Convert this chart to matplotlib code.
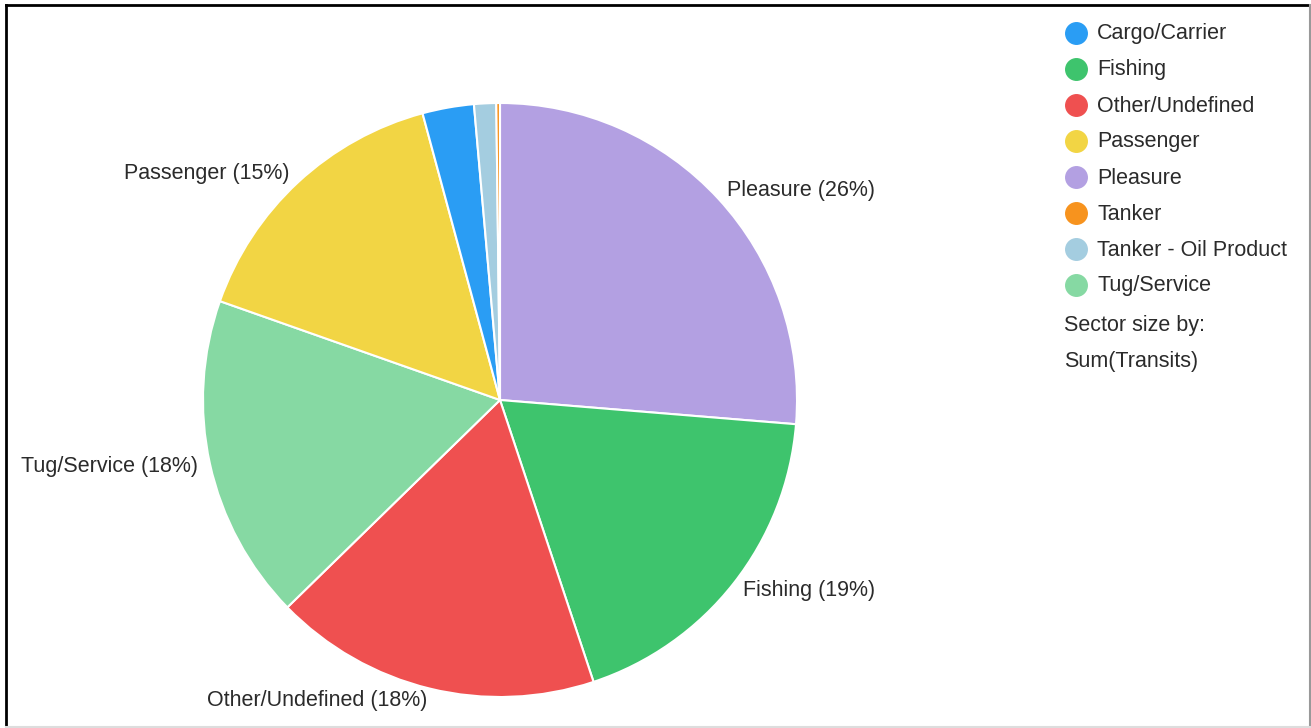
import matplotlib.pyplot as plt
from matplotlib.lines import Line2D

# slice order as drawn (clockwise from 12 o'clock)
categories = ["Pleasure", "Fishing", "Other/Undefined", "Tug/Service", "Passenger",
              "Cargo/Carrier", "Tanker - Oil Product", "Tanker"]
shares = [26.3, 18.6, 17.8, 17.7, 15.4, 2.8, 1.2, 0.2]

colors = {
    "Cargo/Carrier": "#2a9df4",
    "Fishing": "#3ec46d",
    "Other/Undefined": "#ef5050",
    "Passenger": "#f2d544",
    "Pleasure": "#b3a0e2",
    "Tanker": "#f7931e",
    "Tanker - Oil Product": "#a4cde0",
    "Tug/Service": "#86d9a3",
}

legend_order = ["Cargo/Carrier", "Fishing", "Other/Undefined", "Passenger", "Pleasure",
                "Tanker", "Tanker - Oil Product", "Tug/Service"]

W, H = 1311, 728
plt.rcParams['font.family'] = ['Liberation Sans', 'DejaVu Sans']
txt_color = '#2b2b2b'

fig = plt.figure(figsize=(W / 100, H / 100), dpi=100)
fig.patch.set_facecolor('white')

# pie axes placed by pixel: center (500, 400), radius 297
cx, cy, r = 500, 400, 297
ax = fig.add_axes([(cx - r) / W, (H - cy - r) / H, 2 * r / W, 2 * r / H])

total = sum(shares)
labels = [f"{c} ({round(100 * v / total)}%)" if v / total >= 0.05 else "" for c, v in zip(categories, shares)]

wedges, texts = ax.pie(shares, labels=labels, colors=[colors[c] for c in categories],
                       startangle=90, counterclock=False, labeldistance=1.04,
                       wedgeprops=dict(edgecolor='white', linewidth=1.5),
                       textprops=dict(fontsize=15.5, color=txt_color))
ax.set_xlim(-1, 1)
ax.set_ylim(-1, 1)
ax.set_aspect('auto')
ax.axis('off')

# legend drawn by hand
lx, ly0, step = 1076, 34, 36
for i, name in enumerate(legend_order):
    y = ly0 + i * step
    fig.add_artist(Line2D([lx / W], [1 - (y - 1) / H], marker='o', markersize=15.5,
                          markerfacecolor=colors[name], markeredgecolor=colors[name],
                          linestyle='none', transform=fig.transFigure))
    fig.text((lx + 21) / W, 1 - y / H, name, fontsize=15.5, color=txt_color, va='center', ha='left')

fig.text(1064 / W, 1 - 326 / H, "Sector size by:", fontsize=15.5, color=txt_color, va='center', ha='left')
fig.text(1064 / W, 1 - 362 / H, "Sum(Transits)", fontsize=15.5, color=txt_color, va='center', ha='left')

# frame around the chart
fig.add_artist(Line2D([6 / W, 6 / W], [0, 1 - 5 / H], color='black', linewidth=2, transform=fig.transFigure))
fig.add_artist(Line2D([6 / W, 1310 / W], [1 - 5 / H, 1 - 5 / H], color='black', linewidth=2, transform=fig.transFigure))
fig.add_artist(Line2D([1310 / W, 1310 / W], [0, 1 - 5 / H], color='#999999', linewidth=1.5, transform=fig.transFigure))
fig.add_artist(Line2D([6 / W, 1310 / W], [1 / H, 1 / H], color='#dddddd', linewidth=1.5, transform=fig.transFigure))

fig.savefig('out.png', dpi=100)
